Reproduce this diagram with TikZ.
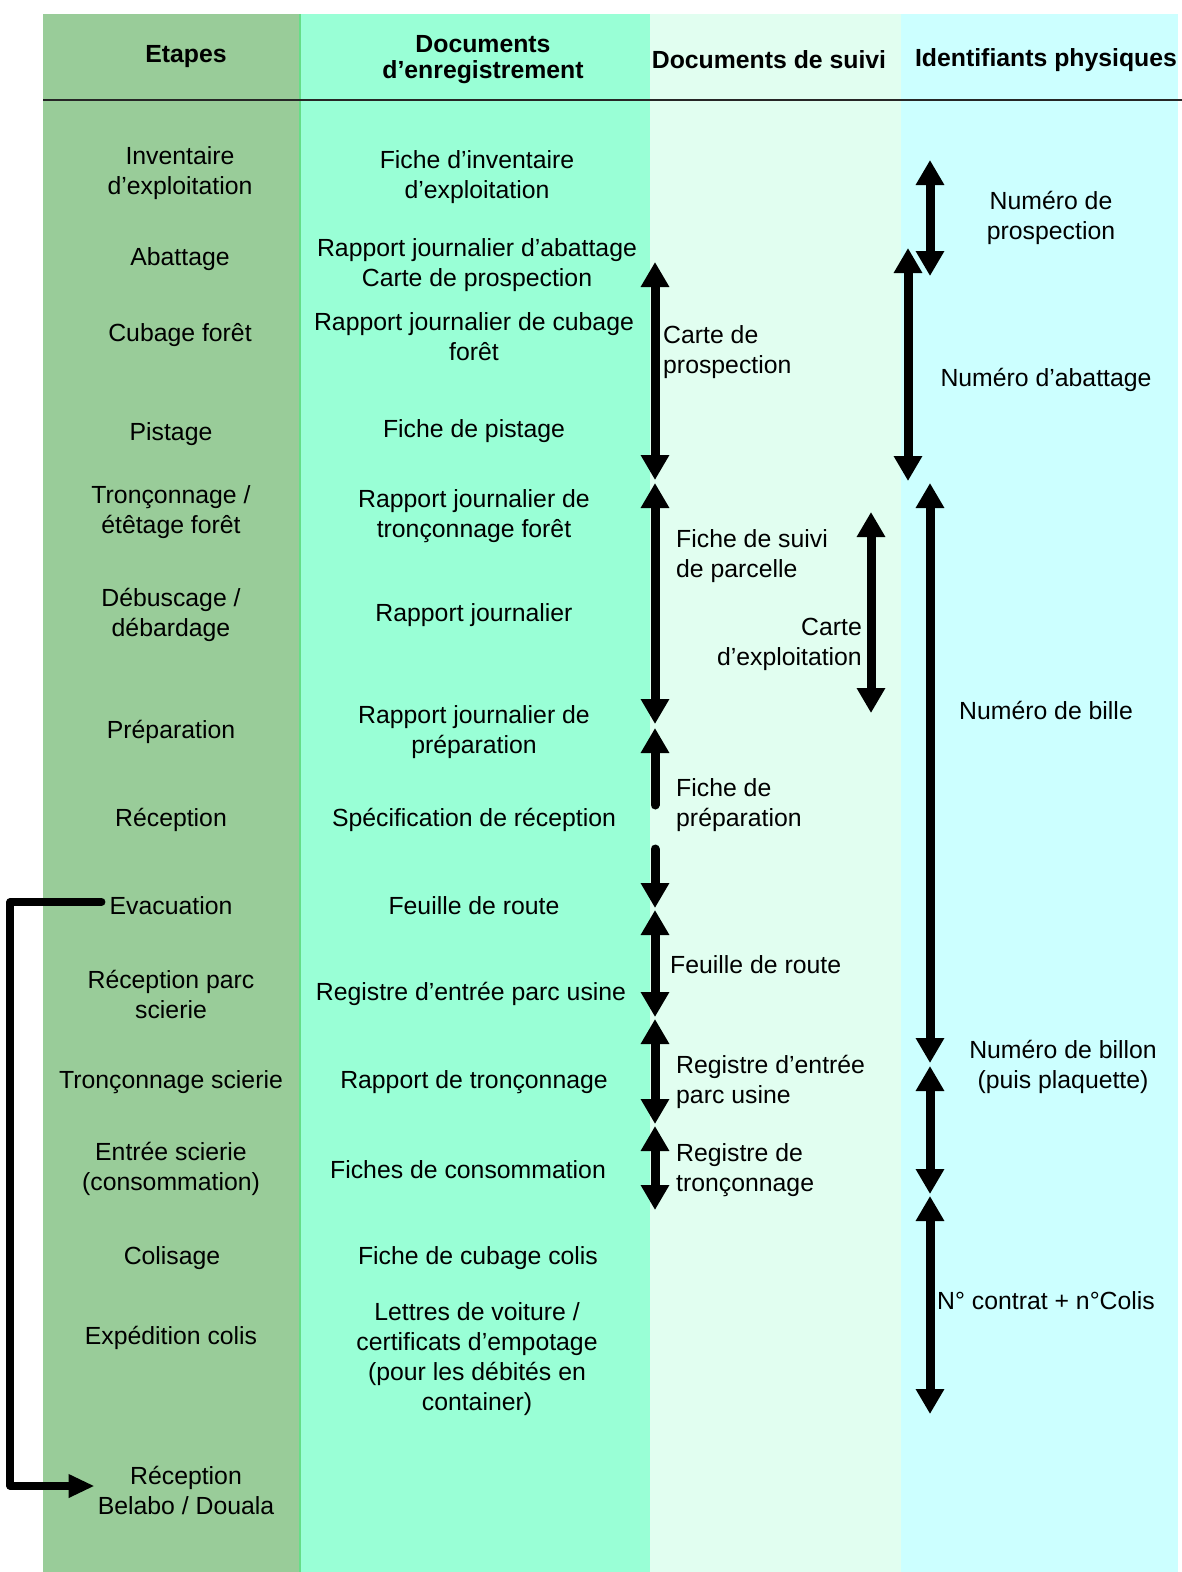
\documentclass[tikz,border=0pt]{standalone}
\usepackage{fontspec}
\setmainfont{Liberation Sans}
\usetikzlibrary{arrows.meta}
\definecolor{etapegreen}{RGB}{153,204,153}
\definecolor{enregaqua}{RGB}{153,255,214}
\definecolor{suivimint}{RGB}{225,254,240}
\definecolor{identcyan}{RGB}{204,255,255}
\begin{document}
\begin{tikzpicture}[x=1pt, y=-1pt,
    every node/.style={inner sep=0pt},
    txt/.style={yshift=-3pt, font=\fontsize{24.8}{30}\selectfont},
    lbl/.style={txt, align=center},
    lbll/.style={txt, align=left, anchor=west},
    head/.style={align=center, yshift=-3pt, font=\fontsize{24.8}{26}\selectfont\bfseries},
    trackarrow/.style={line width=9pt, {Triangle[length=25pt,width=27pt]}-{Triangle[length=25pt,width=27pt]}},
    halfarrow/.style={line width=9pt, line cap=round, -{Triangle[length=25pt,width=27pt]}},
    looparrow/.style={line width=8pt, line cap=round, line join=round, -{Triangle[length=26pt,width=22pt]}}]
    \useasboundingbox (0,0) rectangle (1182,1572);
    \fill[white] (0,0) rectangle (1182,1572);
    \fill[etapegreen] (43,14) rectangle (300,1572);
    \fill[enregaqua] (300,14) rectangle (650,1572);
    \fill[suivimint] (650,14) rectangle (901,1572);
    \fill[identcyan] (901,14) rectangle (1178,1572);
    \draw[green!55!teal!60, line width=1.5pt] (300,14) -- (300,1572);
    \draw[black!85, line width=2pt] (43,100) -- (1182,100);

    \node[head] (hetapes) at (186,54) {Etapes};
    \node[head] (henreg) at (483,57) {Documents\\d’enregistrement};
    \node[head] (hsuivi) at (769,57) {Documents de suivi};
    \node[head] (hident) at (1046,57) {Identifiants physiques};

    \node[lbl] (inv) at (180,170) {Inventaire\\d’exploitation};
    \node[lbl] (abat) at (180,256) {Abattage};
    \node[lbl] (cub) at (180,332) {Cubage forêt};
    \node[lbl] (pist) at (171,431) {Pistage};
    \node[lbl] (tronf) at (171,509) {Tronçonnage /\\étêtage forêt};
    \node[lbl] (debu) at (171,612) {Débuscage /\\débardage};
    \node[lbl] (prep) at (171,729) {Préparation};
    \node[lbl] (recep) at (171,817) {Réception};
    \node[lbl] (evac) at (171,903) {Evacuation};
    \node[lbl] (recparc) at (171,991) {Réception parc\\scierie};
    \node[lbl] (trons) at (171,1079) {Tronçonnage scierie};
    \node[lbl] (entree) at (171,1166) {Entrée scierie\\(consommation)};
    \node[lbl] (colis) at (172,1255) {Colisage};
    \node[lbl] (exped) at (171,1335) {Expédition colis};
    \node[lbl] (belabo) at (186,1487) {Réception\\Belabo / Douala};

    \node[lbl] (finv) at (477,174) {Fiche d’inventaire\\d’exploitation};
    \node[lbl] (rabat) at (477,262) {Rapport journalier d’abattage\\Carte de prospection};
    \node[lbl] (rcub) at (474,334) {Rapport journalier de cubage\\forêt};
    \node[lbl] (fpist) at (474,428) {Fiche de pistage};
    \node[lbl] (rtronf) at (474,513) {Rapport journalier de\\tronçonnage forêt};
    \node[lbl] (rjour) at (474,612) {Rapport journalier};
    \node[lbl] (rprep) at (474,729) {Rapport journalier de\\préparation};
    \node[lbl] (specrec) at (474,817) {Spécification de réception};
    \node[lbl] (froute) at (474,903) {Feuille de route};
    \node[lbl] (regent) at (471,991) {Registre d’entrée parc usine};
    \node[lbl] (rtrons) at (474,1079) {Rapport de tronçonnage};
    \node[lbl] (fcons) at (468,1167) {Fiches de consommation};
    \node[lbl] (fcub) at (478,1255) {Fiche de cubage colis};
    \node[lbl] (lettres) at (477,1356) {Lettres de voiture /\\certificats d’empotage\\(pour les débités en\\container)};

    \node[lbll] (scarte) at (663,349) {Carte de\\prospection};
    \node[lbll] (sparc) at (676,553) {Fiche de suivi\\de parcelle};
    \node[txt, align=right, anchor=east] (sexpl) at (862,641) {Carte\\d’exploitation};
    \node[lbll] (sprep) at (676,802) {Fiche de\\préparation};
    \node[lbll] (sroute) at (670,962) {Feuille de route};
    \node[lbll] (sregent) at (676,1079) {Registre d’entrée\\parc usine};
    \node[lbll] (sregtron) at (676,1167) {Registre de\\tronçonnage};

    \node[lbl] (iprosp) at (1051,215) {Numéro de\\prospection};
    \node[lbl] (iabat) at (1046,377) {Numéro d’abattage};
    \node[lbl] (ibille) at (1046,707) {Numéro de bille};
    \node[lbl] (ibillon) at (1063,1064) {Numéro de billon\\(puis plaquette)};
    \node[lbl] (icolis) at (1046,1298) {N° contrat + n°Colis};

    \coordinate (s1) at (655,262);
    \coordinate (s2) at (655,480);
    \coordinate (s3) at (655,483);
    \coordinate (s4) at (655,724);
    \coordinate (s5) at (871,512);
    \coordinate (s6) at (871,713);
    \coordinate (s7) at (655,728);
    \coordinate (s8) at (655,805);
    \coordinate (s9) at (655,849);
    \coordinate (s10) at (655,908);
    \coordinate (s11) at (655,910);
    \coordinate (s12) at (655,1017);
    \coordinate (s13) at (655,1019);
    \coordinate (s14) at (655,1124);
    \coordinate (s15) at (655,1126);
    \coordinate (s16) at (655,1210);
    \draw[trackarrow] (s1) -- (s2);
    \draw[trackarrow] (s3) -- (s4);
    \draw[trackarrow] (s5) -- (s6);
    \draw[halfarrow] (s8) -- (s7);
    \draw[halfarrow] (s9) -- (s10);
    \draw[trackarrow] (s11) -- (s12);
    \draw[trackarrow] (s13) -- (s14);
    \draw[trackarrow] (s15) -- (s16);

    \coordinate (p1) at (930,160);
    \coordinate (p2) at (930,276);
    \coordinate (p3) at (908,248);
    \coordinate (p4) at (908,481);
    \coordinate (p5) at (930,483);
    \coordinate (p6) at (930,1063);
    \coordinate (p7) at (930,1066);
    \coordinate (p8) at (930,1194);
    \coordinate (p9) at (930,1196);
    \coordinate (p10) at (930,1414);
    \draw[trackarrow] (p1) -- (p2);
    \draw[trackarrow] (p3) -- (p4);
    \draw[trackarrow] (p5) -- (p6);
    \draw[trackarrow] (p7) -- (p8);
    \draw[trackarrow] (p9) -- (p10);

    \draw[looparrow] ([xshift=-8pt,yshift=4pt]evac.west) -- ++(-91,0) |- ([xshift=-3pt,yshift=4pt]belabo.west);
\end{tikzpicture}
\end{document}
